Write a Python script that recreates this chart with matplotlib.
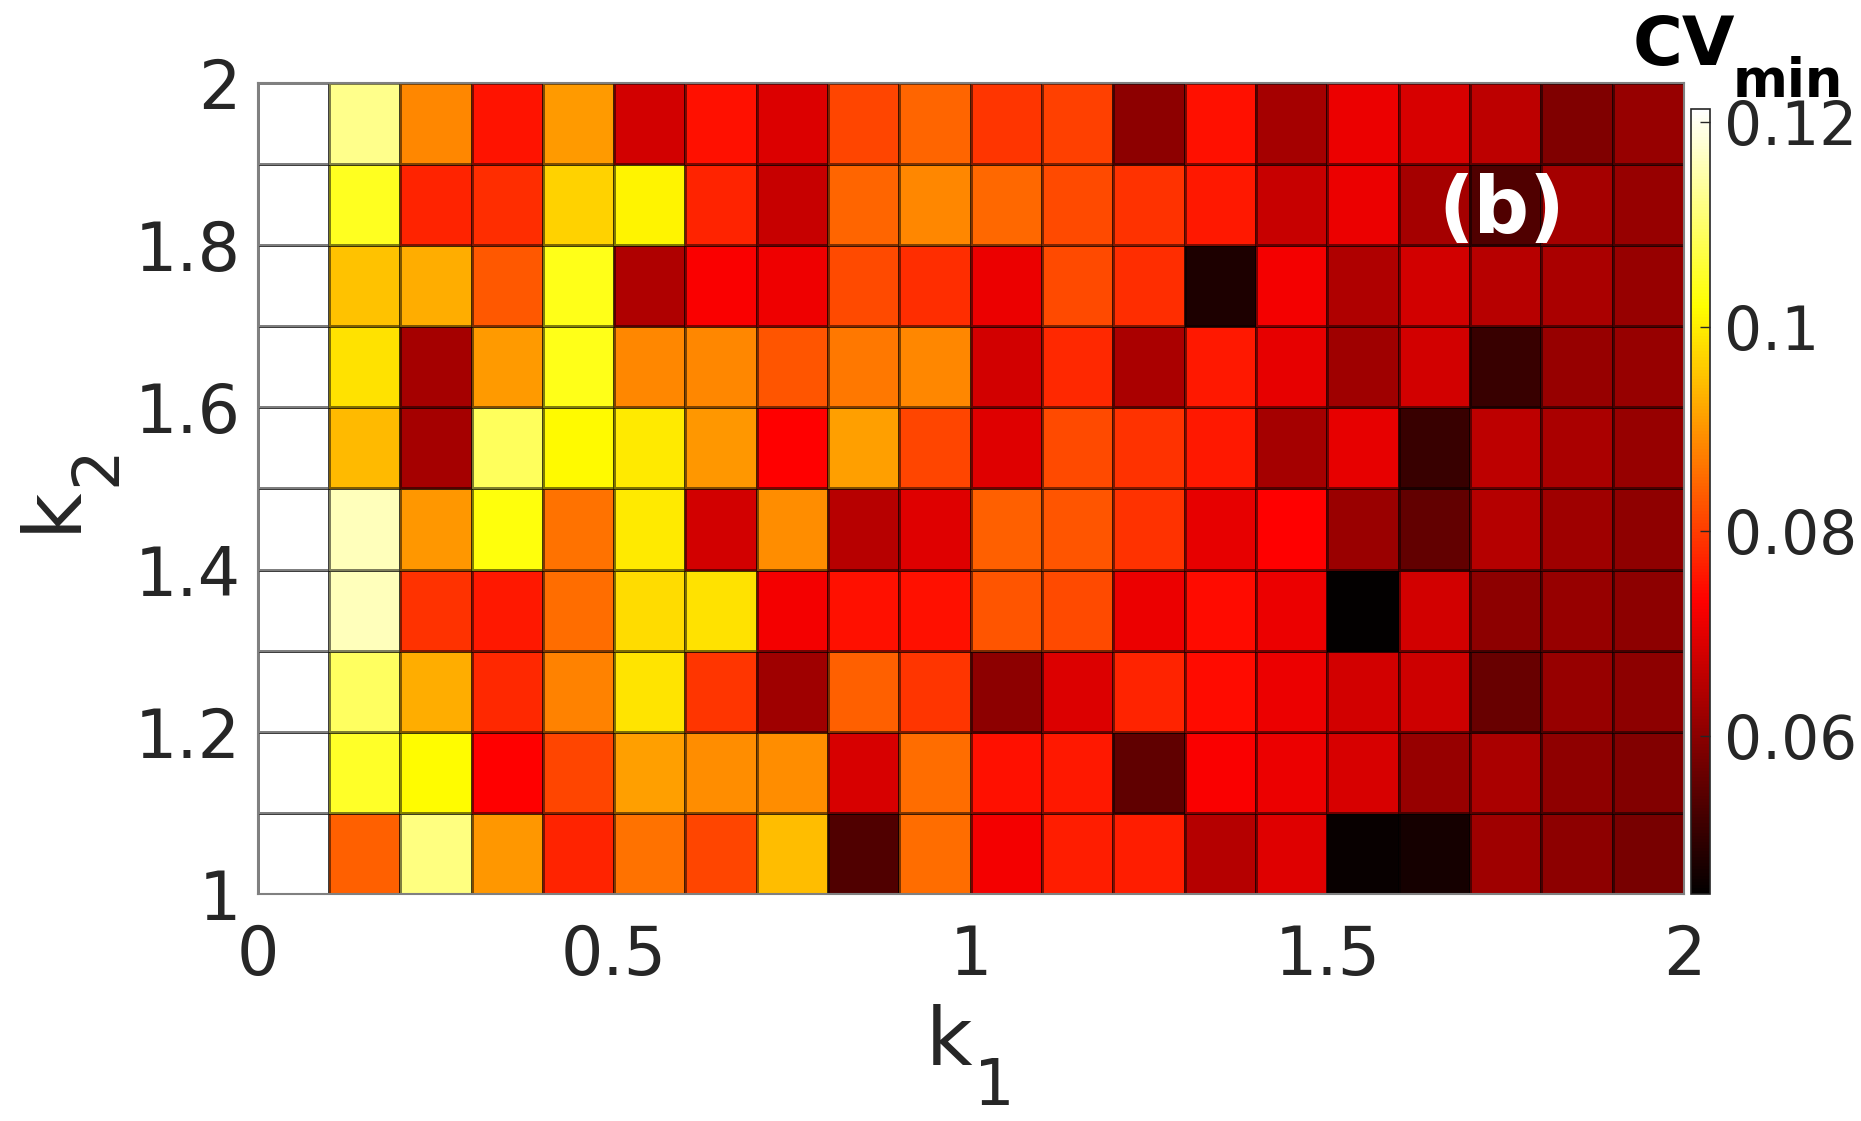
import numpy as np
import matplotlib
matplotlib.use('Agg')
import matplotlib.pyplot as plt
from matplotlib.colors import ListedColormap

plt.rcParams['font.family'] = 'DejaVu Sans'

# cell edges
k1_edges = np.linspace(0, 2, 21)
k2_edges = np.linspace(1, 2, 11)

# CV_min per cell, rows from k2=1.0 (bottom) to k2=1.9 (top), columns k1=0..1.9
# first column is above the colour range (drawn white)
cv_min = [
    [0.125, 0.0839, 0.1117, 0.0901, 0.0770, 0.0861, 0.0810, 0.0945, 0.0534, 0.0855,
     0.0719, 0.0765, 0.0765, 0.0647, 0.0697, 0.0452, 0.0466, 0.0623, 0.0601, 0.0578],
    [0.125, 0.1049, 0.1016, 0.0731, 0.0810, 0.0911, 0.0889, 0.0889, 0.0686, 0.0855,
     0.0748, 0.0759, 0.0551, 0.0726, 0.0709, 0.0686, 0.0613, 0.0635, 0.0607, 0.0590],
    [0.125, 0.1090, 0.0928, 0.0776, 0.0878, 0.0988, 0.0793, 0.0623, 0.0839, 0.0793,
     0.0601, 0.0692, 0.0770, 0.0743, 0.0709, 0.0680, 0.0675, 0.0561, 0.0613, 0.0601],
    [0.125, 0.1162, 0.0788, 0.0759, 0.0855, 0.0980, 0.0985, 0.0719, 0.0748, 0.0748,
     0.0827, 0.0815, 0.0709, 0.0745, 0.0709, 0.0443, 0.0680, 0.0601, 0.0613, 0.0601],
    [0.125, 0.1162, 0.0901, 0.1027, 0.0861, 0.0997, 0.0680, 0.0889, 0.0652, 0.0697,
     0.0839, 0.0827, 0.0788, 0.0703, 0.0731, 0.0618, 0.0556, 0.0647, 0.0623, 0.0607],
    [0.125, 0.0940, 0.0630, 0.1087, 0.1014, 0.0997, 0.0901, 0.0731, 0.0911, 0.0810,
     0.0697, 0.0815, 0.0788, 0.0759, 0.0630, 0.0703, 0.0505, 0.0657, 0.0635, 0.0613],
    [0.125, 0.0985, 0.0630, 0.0906, 0.1038, 0.0884, 0.0884, 0.0827, 0.0866, 0.0884,
     0.0680, 0.0776, 0.0635, 0.0759, 0.0703, 0.0623, 0.0680, 0.0505, 0.0613, 0.0613],
    [0.125, 0.0951, 0.0928, 0.0832, 0.1038, 0.0640, 0.0726, 0.0714, 0.0815, 0.0782,
     0.0709, 0.0815, 0.0782, 0.0477, 0.0719, 0.0640, 0.0680, 0.0652, 0.0635, 0.0613],
    [0.125, 0.1042, 0.0770, 0.0782, 0.0968, 0.1007, 0.0770, 0.0669, 0.0844, 0.0884,
     0.0849, 0.0815, 0.0788, 0.0759, 0.0669, 0.0709, 0.0630, 0.0534, 0.0630, 0.0613],
    [0.125, 0.1124, 0.0884, 0.0753, 0.0906, 0.0680, 0.0748, 0.0692, 0.0810, 0.0844,
     0.0793, 0.0804, 0.0601, 0.0748, 0.0630, 0.0709, 0.0686, 0.0657, 0.0587, 0.0613],
]

cv_range = (0.0445, 0.1213)
xticks = [0, 0.5, 1, 1.5, 2]
xlabels = ['0', '0.5', '1', '1.5', '2']
yticks = [1, 1.2, 1.4, 1.6, 1.8, 2]
ylabels = ['1', '1.2', '1.4', '1.6', '1.8', '2']
cticks = [0.06, 0.08, 0.1, 0.12]
clabels = ['0.06', '0.08', '0.1', '0.12']

# matlab style hot colormap
m = 256
n = 96
r = np.concatenate([np.arange(1, n + 1) / n, np.ones(m - n)])
g = np.concatenate([np.zeros(n), np.arange(1, n + 1) / n, np.ones(m - 2 * n)])
b = np.concatenate([np.zeros(2 * n), np.arange(1, m - 2 * n + 1) / (m - 2 * n)])
hot = ListedColormap(np.column_stack([r, g, b]))

txt = '#262626'
fig = plt.figure(figsize=(18.61, 11.21), dpi=100)
ax = fig.add_axes([0.1384, 0.2025, 0.7665, 0.7235])

mesh = ax.pcolormesh(k1_edges, k2_edges, np.array(cv_min), cmap=hot,
                     vmin=cv_range[0], vmax=cv_range[1],
                     edgecolors=(0, 0, 0, 0.5), linewidth=0.8)
ax.set_xlim(0, 2)
ax.set_ylim(1, 2)
ax.set_xticks(xticks)
ax.set_xticklabels(xlabels)
ax.set_yticks(yticks)
ax.set_yticklabels(ylabels)
ax.tick_params(axis='both', length=0, labelsize=48, colors=txt)
ax.tick_params(axis='x', pad=21)
ax.tick_params(axis='y', pad=12)
for s in ax.spines.values():
    s.set_color('#808080')
    s.set_linewidth(1.5)

# axis labels, subscripts drawn as separate texts (matlab-like sizes)
fig.text(0.4976, 0.050, 'k', fontsize=58, color=txt, ha='left', va='baseline')
fig.text(0.5234, 0.0143, '1', fontsize=46, color=txt, ha='left', va='baseline')
fig.text(0.0403, 0.5254, 'k', fontsize=58, color=txt, rotation=90,
         rotation_mode='anchor', ha='left', va='baseline')
fig.text(0.0618, 0.5665, '2', fontsize=46, color=txt, rotation=90,
         rotation_mode='anchor', ha='left', va='baseline')

ax.text(1.745, 1.815, '(b)', color='white', fontsize=56, fontweight='bold',
        ha='center', va='baseline')

cax = fig.add_axes([0.9085, 0.2025, 0.0104, 0.7003])
cb = fig.colorbar(mesh, cax=cax)
cb.set_ticks(cticks)
cb.set_ticklabels(clabels)
cb.ax.tick_params(direction='in', length=7, width=1, color=txt,
                  labelsize=43, labelcolor=txt, pad=10)
cb.outline.set_edgecolor(txt)
cb.outline.set_linewidth(1.2)

fig.text(0.8775, 0.942, 'CV', fontsize=49, fontweight='bold', color='black',
         ha='left', va='baseline')
fig.text(0.931, 0.9135, 'min', fontsize=38, fontweight='bold', color='black',
         ha='left', va='baseline')

fig.savefig('out.png', dpi=100)
